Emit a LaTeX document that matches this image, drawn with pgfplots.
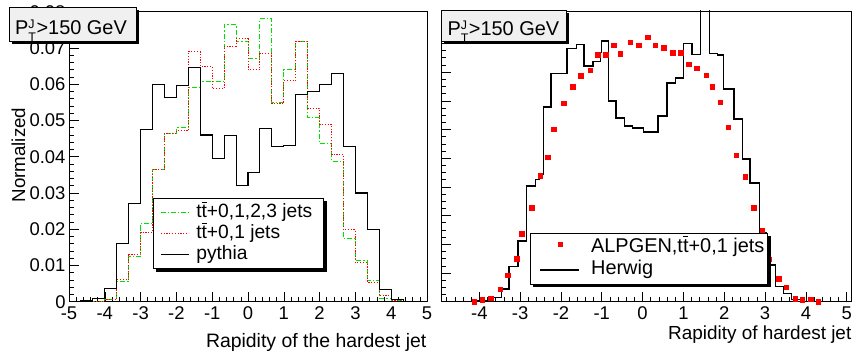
\documentclass[border=0pt]{standalone}
\usepackage{fontspec}
\setmainfont{Liberation Sans}
\usepackage{pgfplots}
\pgfplotsset{compat=1.18}
\definecolor{rgreen}{RGB}{0,225,0}
\definecolor{rred}{RGB}{255,0,0}
\definecolor{paveg}{RGB}{240,240,240}
\newcommand\tbar{t\llap{\raisebox{0.76em}{\rule{0.26em}{0.06em}}\kern0.01em}}
\newcommand\ptj{P\rlap{\raisebox{6.5bp}{\fontsize{12.5}{12.5}\selectfont J}}\raisebox{-7bp}{\fontsize{12.5}{12.5}\selectfont T}\kern0.5bp>150 GeV}
\pgfplotsset{
  rootaxis/.style={
    scale only axis,
    anchor=south west,
    axis line style={line width=0.9bp},
    tick align=inside,
    tick pos=left,
    major tick length=10bp,
    minor tick length=5bp,
    every tick/.style={black, line width=0.6bp},
    ticklabel style={font=\fontsize{18.5}{20}\selectfont},
    xticklabel style={anchor=north, inner sep=0pt, yshift=-4.5bp},
    yticklabel style={anchor=east, inner sep=0pt, xshift=-3.3bp},
    scaled x ticks=false, scaled y ticks=false,
    legend cell align=left,
  },
  markleg/.style={legend image code/.code={\draw[mark repeat=2,mark phase=2,##1] plot coordinates {(0bp,3bp) (20bp,3bp) (39bp,3bp)};}},
  lineleg/.style={legend image code/.code={\draw[##1] (0bp,0bp) -- (39bp,0bp);}},
  shortleg/.style={legend image code/.code={\draw[##1] (0bp,0bp) -- (28bp,0bp);}},
}
\begin{document}
\begin{tikzpicture}
\useasboundingbox (0,0) rectangle (854bp,353bp);

% ---------------- left panel ----------------
\begin{axis}[rootaxis, at={(69bp,51.3bp)}, width=358bp, height=290bp,
  xmin=-5, xmax=5, ymin=0, ymax=0.08,
  xtick={-5,-4,-3,-2,-1,0,1,2,3,4,5},
  xticklabels={-5,-4,-3,-2,-1,0,1,2,3,4,5},
  minor xtick={-4.8,-4.6,...,4.9},
  ytick={0,0.01,0.02,0.03,0.04,0.05,0.06,0.07,0.08},
  yticklabels={0,0.01,0.02,0.03,0.04,0.05,0.06,0.07,0.08},
  minor ytick={0.002,0.004,...,0.079},
  legend style={name=legL, at={(0.2355,0.3566)}, anchor=north west,
    draw=black, line width=0.8bp, fill=white,
    inner xsep=6.5bp, inner ysep=3bp, column sep=7bp, row sep=0bp,
    nodes={inner sep=0pt, text depth=},
    font=\fontsize{19.3}{21}\selectfont},
  shortleg,
]
\addplot[const plot, color=rgreen, line width=1bp, dash pattern=on 5bp off 2bp on 1.2bp off 2bp] table {
x y
-5 0
-4.6667 0
-4.3333 0.0001
-4 0.0005
-3.6667 0.0055
-3.3333 0.0124
-3 0.0215
-2.6667 0.0364
-2.3333 0.0465
-2 0.0480
-1.6667 0.0590
-1.3333 0.0608
-1 0.0608
-0.6667 0.0764
-0.3333 0.0718
0 0.0672
0.3333 0.0780
0.6667 0.0550
1 0.0640
1.3333 0.0718
1.6667 0.0507
2 0.0436
2.3333 0.0387
2.6667 0.0175
3 0.0115
3.3333 0.0058
3.6667 0.0010
4 0.0002
4.3333 0
4.6667 0
5 0
};
\addlegendentry{\makebox[121bp][l]{t\tbar+0,1,2,3 jets}\rule[-5.5bp]{0pt}{21bp}}
\addplot[const plot, color=rred, line width=1bp, dash pattern=on 1.2bp off 1.6bp] table {
x y
-5 0
-4.6667 0
-4.3333 0.0001
-4 0.0005
-3.6667 0.0060
-3.3333 0.0129
-3 0.0191
-2.6667 0.0364
-2.3333 0.0465
-2 0.0472
-1.6667 0.0690
-1.3333 0.0649
-1 0.0588
-0.6667 0.0705
-0.3333 0.0725
0 0.0640
0.3333 0.0684
0.6667 0.0546
1 0.0610
1.3333 0.0718
1.6667 0.0534
2 0.0490
2.3333 0.0406
2.6667 0.0198
3 0.0108
3.3333 0.0054
3.6667 0.0016
4 0.0002
4.3333 0
4.6667 0
5 0
};
\addlegendentry{\makebox[121bp][l]{t\tbar+0,1 jets}\rule[-5.5bp]{0pt}{21bp}}
\addplot[const plot, color=black, line width=1.1bp] table {
x y
-5 0
-4.6667 0.0002
-4.3333 0.0009
-4 0.0037
-3.6667 0.0160
-3.3333 0.0272
-3 0.0476
-2.6667 0.0599
-2.3333 0.0563
-2 0.0596
-1.6667 0.0647
-1.3333 0.0460
-1 0.0395
-0.6667 0.0459
-0.3333 0.0320
0 0.0357
0.3333 0.0479
0.6667 0.0428
1 0.0432
1.3333 0.0572
1.6667 0.0581
2 0.0599
2.3333 0.0629
2.6667 0.0428
3 0.0300
3.3333 0.0199
3.6667 0.0033
4 0.0005
4.3333 0
4.6667 0
5 0
};
\addlegendentry{\makebox[121bp][l]{pythia}\rule[-5.5bp]{0pt}{21bp}}
\end{axis}

% ---------------- right panel ----------------
\begin{axis}[rootaxis, at={(441bp,51.3bp)}, width=410bp, height=290.7bp,
  xmin=-4.939, xmax=5.105, ymin=0, ymax=0.1013,
  xtick={-4,-3,-2,-1,0,1,2,3,4,5},
  xticklabels={-4,-3,-2,-1,0,1,2,3,4,5},
  minor xtick={-4.8,-4.6,...,5.05},
  ytick={0,0.01,0.02,0.03,0.04,0.05,0.06,0.07,0.08,0.09,0.1},
  yticklabels={},
  minor ytick={0.0025,0.005,...,0.1},
  legend style={name=legR, at={(0.2171,0.2374)}, anchor=north west,
    draw=black, line width=0.8bp, fill=white,
    inner xsep=9bp, inner ysep=3bp, column sep=11.3bp, row sep=0bp,
    nodes={inner sep=0pt, text depth=},
    font=\fontsize{20}{22}\selectfont},
]
\addplot[only marks, mark=square*, mark size=2.3bp, mark options={fill=rred, draw=rred, line width=0.5bp}, markleg] table {
x y
-4.12 0.0000
-3.93 0.0007
-3.72 0.0012
-3.49 0.0044
-3.30 0.0092
-3.08 0.0150
-2.96 0.0237
-2.72 0.0327
-2.51 0.0438
-2.32 0.0504
-2.17 0.0601
-1.93 0.0691
-1.71 0.0748
-1.52 0.0788
-1.28 0.0806
-1.10 0.0861
-0.91 0.0860
-0.70 0.0893
-0.55 0.0865
-0.30 0.0904
-0.09 0.0893
0.12 0.0922
0.31 0.0893
0.52 0.0885
0.74 0.0868
0.93 0.0868
1.13 0.0828
1.32 0.0813
1.56 0.0789
1.71 0.0748
1.90 0.0695
2.10 0.0608
2.29 0.0511
2.51 0.0435
2.72 0.0327
2.93 0.0248
3.10 0.0148
3.33 0.0080
3.52 0.0051
3.74 0.0010
3.91 0.0007
4.12 0.0008
4.30 0.0000
};
\addlegendentry{\makebox[167bp][l]{ALPGEN,t\tbar+0,1 jets}\rule[-6.3bp]{0pt}{22.3bp}}
\addplot[const plot, color=black, line width=1.4bp, lineleg] table {
x y
-4.94 0
-4.05 0.0003
-3.72 0.0015
-3.45 0.0044
-3.27 0.0122
-3.05 0.0212
-2.85 0.0403
-2.62 0.0426
-2.52 0.0443
-2.43 0.0679
-2.24 0.0796
-1.85 0.0882
-1.62 0.0897
-1.44 0.0821
-1.22 0.0836
-1.03 0.0868
-1.00 0.0909
-0.84 0.0699
-0.65 0.0640
-0.45 0.0612
-0.25 0.0605
0.02 0.0592
0.38 0.0647
0.60 0.0762
0.80 0.0779
1.00 0.0900
1.21 0.0861
1.42 0.1200
1.64 0.0864
1.83 0.0860
1.98 0.0741
2.24 0.0636
2.45 0.0497
2.63 0.0413
2.86 0.0241
3.04 0.0128
3.26 0.0052
3.45 0.0029
3.65 0.0008
3.90 0
5.10 0
};
\addlegendentry{\makebox[167bp][l]{Herwig}\rule[-6.3bp]{0pt}{22.3bp}}
\end{axis}

% ---------------- legend shadows (right and bottom strips) ----------------
\foreach \L in {legL,legR}{
  \fill[black] ([yshift=-3bp]\L.north east) rectangle ([xshift=3bp,yshift=-3bp]\L.south east);
  \fill[black] ([xshift=3bp]\L.south west) rectangle ([xshift=3bp,yshift=-3bp]\L.south east);
}

% ---------------- title boxes ----------------
\fill[black] (12bp,308.6bp) rectangle (139.2bp,343bp);
\filldraw[fill=paveg, draw=black, line width=0.8bp] (9.3bp,311.3bp) rectangle (136.5bp,345.7bp);
\node[anchor=base west, inner sep=0pt, font=\fontsize{20}{20}\selectfont] at (15bp,318bp) {\ptj};

\fill[black] (444.4bp,308.6bp) rectangle (569.4bp,340.3bp);
\filldraw[fill=paveg, draw=black, line width=0.8bp] (441.7bp,311.3bp) rectangle (566.7bp,343bp);
\node[anchor=base west, inner sep=0pt, font=\fontsize{20}{20}\selectfont] at (447.3bp,317bp) {\ptj};

% ---------------- axis titles ----------------
\node[rotate=90, anchor=base, inner sep=0pt, font=\fontsize{18.8}{20}\selectfont] at (25bp,198bp) {Normalized};
\node[anchor=base east, inner sep=0pt, font=\fontsize{19.5}{20}\selectfont] at (426.5bp,5.8bp) {Rapidity of the hardest jet};
\node[anchor=base east, inner sep=0pt, font=\fontsize{19}{20}\selectfont] at (851.5bp,14bp) {Rapidity of hardest jet};
\end{tikzpicture}
\end{document}
